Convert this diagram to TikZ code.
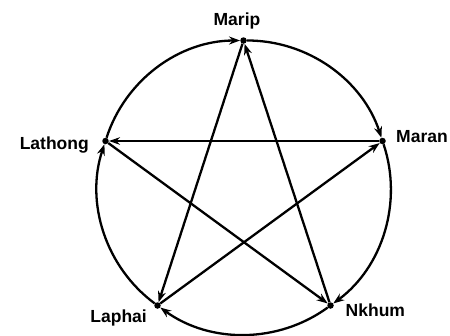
\documentclass[tikz,border=0pt]{standalone}
\usepackage{fontspec}
\setmainfont{Liberation Sans}
\usetikzlibrary{arrows.meta}
\begin{document}
\begin{tikzpicture}[x=1pt,y=1pt,
  dot/.style={circle,fill=black,inner sep=0pt,minimum size=6.5pt},
  lab/.style={font=\bfseries\fontsize{17.5}{20}\selectfont,inner sep=0pt},
  ringarc/.style={line width=2.3pt,-{Stealth[length=11pt,width=8pt]},bend left=36,looseness=0.94},
  chord/.style={line width=2.3pt,-{Stealth[length=11pt,width=8pt]}},
  thinchord/.style={line width=1.4pt,-{Stealth[length=11pt,width=7.5pt]}}]
\useasboundingbox (0,0) rectangle (450,-335);
\node[dot] (marip) at (243.5,-40.5) {};
\node[dot] (maran) at (382.5,-141) {};
\node[dot] (lathong) at (105.5,-141) {};
\node[dot] (nkhum) at (330.5,-305.5) {};
\node[dot] (laphai) at (157.5,-305.5) {};
\node[lab,anchor=base] (tmarip) at (237,-25) {Marip};
\node[lab,anchor=base west] (tmaran) at (396,-142) {Maran};
\node[lab,anchor=base east] (tlathong) at (89,-149) {Lathong};
\node[lab,anchor=base east] (tlaphai) at (147,-322) {Laphai};
\node[lab,anchor=base west] (tnkhum) at (345.5,-316.5) {Nkhum};
\draw[ringarc] (lathong) to (marip);
\draw[ringarc] (marip) to (maran);
\draw[ringarc] (maran) to (nkhum);
\draw[ringarc] (nkhum) to (laphai);
\draw[ringarc] (laphai) to (lathong);
\draw[thinchord] (maran) -- (lathong);
\draw[chord] (lathong) -- (nkhum);
\draw[chord] (nkhum) -- (marip);
\draw[chord] (marip) -- (laphai);
\draw[chord] (laphai) -- (maran);
\end{tikzpicture}
\end{document}
